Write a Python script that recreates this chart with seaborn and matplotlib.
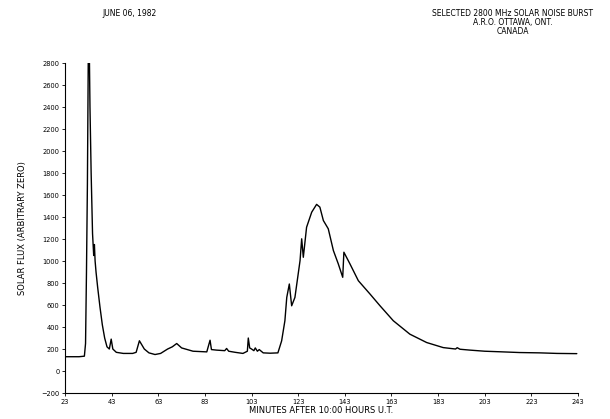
import numpy as np
import pandas as pd
import matplotlib
matplotlib.use('Agg')
import matplotlib.pyplot as plt
import seaborn as sns

# values (minutes after 10:00 UT, flux)
minutes = [23, 26, 29, 31.3, 31.8, 32.2, 32.6, 33.0, 33.4, 33.7, 34.2, 34.8,
           35.3, 35.6, 35.9, 36.3, 37.0, 38.0, 39.0, 40.0, 41.0, 42.0, 42.8,
           43.5, 45, 48, 52, 53.5, 54.9, 57, 59, 61.6, 64, 67, 69, 70.9, 73,
           77.9, 83.8, 85.2, 85.8, 88, 91.5, 92.3, 93.2, 96, 99.3, 101.2, 101.6,
           102.2, 103, 104, 104.6, 105.5, 106.3, 108, 111, 114.3, 115.9, 117.3,
           118.1, 119.2, 120.2, 121.6, 123.8, 124.5, 125.2, 126.6, 128.8, 130.9,
           132.3, 133.8, 135.9, 138.1, 140.2, 142.1, 142.6, 145.2, 148.8, 153.8,
           158.1, 163.8, 170.9, 178.1, 185.2, 190.5, 191.2, 192.4, 196.7, 203,
           209.5, 218, 226.7, 234, 242.5]
flux = [130, 130, 130, 135, 250, 900, 1700, 2950, 2950, 2400, 1800, 1250,
        1050, 1150, 1000, 900, 760, 580, 420, 300, 220, 200, 290,
        200, 170, 160, 160, 170, 275, 200, 165, 150, 160, 200, 220, 250, 210,
        180, 174, 280, 195, 190, 185, 205, 180, 170, 160, 180, 300,
        210, 200, 185, 210, 180, 195, 165, 162, 165, 274, 457,
        669, 791, 593, 669, 1004, 1202, 1034, 1307, 1444, 1515,
        1490, 1368, 1293, 1095, 974, 852, 1080, 974, 821, 700,
        593, 457, 335, 259, 213, 200, 212, 198, 190, 180,
        175, 168, 165, 160, 158]

x_ticks = list(range(23, 244, 20))
y_ticks = list(range(-200, 2801, 200))

df = pd.DataFrame({'minutes': minutes, 'flux': flux})

sns.set_style('ticks')
plt.rcParams['font.family'] = ['DejaVu Sans']
plt.rcParams['text.color'] = 'black'
plt.rcParams['axes.labelcolor'] = 'black'
plt.rcParams['xtick.color'] = 'black'
plt.rcParams['ytick.color'] = 'black'
plt.rcParams['axes.edgecolor'] = 'black'

fig = plt.figure(figsize=(6.1, 4.19), dpi=100)
ax = fig.add_axes([0.1066, 0.062, 0.8409, 0.7876])

sns.lineplot(data=df, x='minutes', y='flux', color='black', linewidth=1.0, ax=ax)

ax.set_xlim(23, 243)
ax.set_ylim(-200, 2800)
ax.set_xticks(x_ticks)
ax.set_yticks(y_ticks)
ax.tick_params(axis='both', labelsize=4.8, length=2.5, width=0.6, pad=1.5)
sns.despine(ax=ax)
for s in ['left', 'bottom']:
    ax.spines[s].set_linewidth(0.8)

ax.set_xlabel('MINUTES AFTER 10:00 HOURS U.T.', fontsize=6, labelpad=1)
ax.set_ylabel('SOLAR FLUX (ARBITRARY ZERO)', fontsize=6, labelpad=10)

fig.text(0.213, 0.968, 'JUNE 06, 1982', fontsize=5.5, ha='center', va='center')
fig.text(0.84, 0.968, 'SELECTED 2800 MHz SOLAR NOISE BURST', fontsize=5.5,
         ha='center', va='center')
fig.text(0.84, 0.947, 'A.R.O. OTTAWA, ONT.', fontsize=5.5, ha='center', va='center')
fig.text(0.84, 0.926, 'CANADA', fontsize=5.5, ha='center', va='center')

fig.savefig('out.png', dpi=100)
